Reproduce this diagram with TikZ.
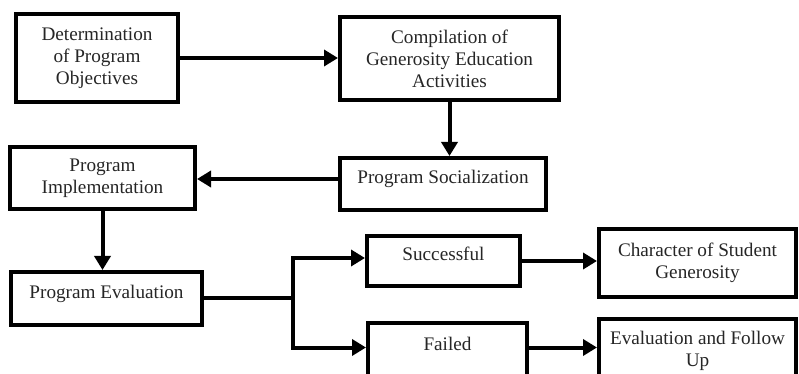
\documentclass[tikz,border=0pt]{standalone}
\usepackage{fontspec}
\setmainfont{Liberation Serif}
\usetikzlibrary{arrows.meta}
\begin{document}
\begin{tikzpicture}[x=0.5pt,y=-0.5pt,
  box/.style={draw=black,line width=2pt,fill=white,align=center,inner sep=0pt,
    font=\fontsize{9.6pt}{11pt}\selectfont,text=black!85},
  onel/.style={text depth=6.8pt},
  conn/.style={line width=2pt,draw=black},
  arr/.style={conn,-{Triangle[length=7pt,width=8pt]}}]
\useasboundingbox (0,0) rectangle (799,374);
\node[box,minimum width=81pt,minimum height=44pt] (b1) at (97,58) {Determination\\of Program\\Objectives};
\node[box,minimum width=109.5pt,minimum height=41.5pt] (b2) at (449.5,58.5) {Compilation of\\Generosity Education\\Activities};
\node[box,onel,minimum width=103pt,minimum height=26pt] (b3) at (443,184) {Program Socialization};
\node[box,minimum width=92.5pt,minimum height=31pt] (b4) at (102.5,178) {Program\\Implementation};
\node[box,onel,minimum width=95.5pt,minimum height=26.5pt] (b5) at (106.5,298.5) {Program Evaluation};
\node[box,onel,minimum width=76.5pt,minimum height=25pt] (s) at (443.5,261) {Successful};
\node[box,onel,minimum width=79.5pt,minimum height=27.5pt] (f) at (447.5,350.5) {Failed};
\node[box,minimum width=98.5pt,minimum height=34pt] (c) at (697.5,263) {Character of Student\\Generosity};
\node[box,minimum width=98.5pt,minimum height=31.5pt] (e) at (697.5,350.5) {Evaluation and Follow\\Up};
\coordinate (j) at (293,298.5);
\draw[arr] (b1.east) -- (b1.east -| b2.west);
\draw[arr] (b2.south) -- (b2.south |- b3.north);
\draw[arr] ([yshift=2.5pt]b3.west) -- ([yshift=2.5pt]b3.west -| b4.east);
\draw[arr] (b4.south) -- (b4.south |- b5.north);
\draw[conn] (b5.east) -- (j);
\draw[arr] (j) |- ([yshift=1.5pt]s.west);
\draw[arr] (j) |- ([yshift=1.5pt]f.west);
\draw[arr] (s.east) -- (s.east -| c.west);
\draw[arr] ([yshift=1.5pt]f.east) -- ([yshift=1.5pt]f.east -| e.west);
\end{tikzpicture}
\end{document}
